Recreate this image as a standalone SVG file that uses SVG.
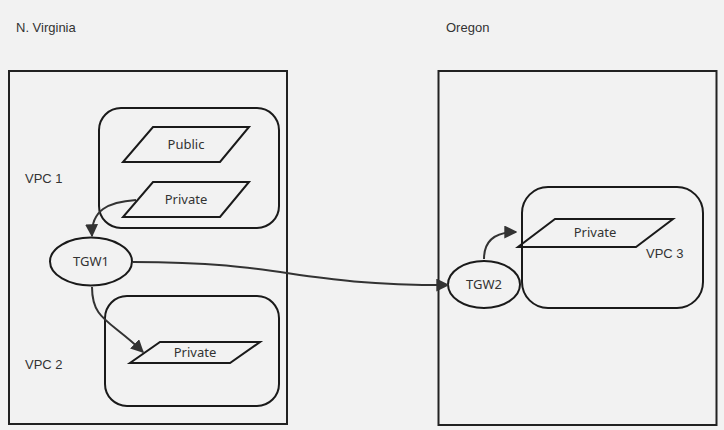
<svg xmlns="http://www.w3.org/2000/svg" width="724" height="430" viewBox="0 0 724 430">
<defs>
<style>
.region{fill:none;stroke:#222;stroke-width:2}
.vpc{fill:none;stroke:#1a1a1a;stroke-width:2}
.sub{fill:none;stroke:#1a1a1a;stroke-width:2;stroke-linejoin:miter}
.tgw{fill:none;stroke:#1a1a1a;stroke-width:2}
.lbl{font-family:"Liberation Sans",Arial,sans-serif;font-size:13px;fill:#333}
.txt{font-family:"Noto Sans","Open Sans",sans-serif;font-size:13px;fill:#333;text-anchor:middle}
.edge{fill:none;stroke:#333;stroke-width:2}
</style>
<marker id="arr" viewBox="0 0 10 10" refX="9" refY="5" markerWidth="6.5" markerHeight="6.5" orient="auto" markerUnits="strokeWidth">
<path d="M0,0 L10,5 L0,10 z" fill="#333"/>
</marker>
</defs>
<rect width="724" height="430" fill="#f2f2f2"/>
<g id="region-nvirginia">
<rect class="region" x="9" y="71" width="278" height="353"/>
<text class="lbl" x="16" y="32">N. Virginia</text>
</g>
<g id="region-oregon">
<rect class="region" x="438.5" y="71" width="278" height="354"/>
<text class="lbl" x="446" y="32">Oregon</text>
</g>
<g id="vpc1">
<rect class="vpc" x="99" y="108" width="180" height="120" rx="22"/>
<text class="lbl" x="25" y="183">VPC 1</text>
</g>
<g id="vpc1-public">
<polygon class="sub" points="153,127 249,127 220,162 123,162"/>
<text class="txt" x="186" y="148.5">Public</text>
</g>
<g id="vpc1-private">
<polygon class="sub" points="153,182 249,182 220,217 123,217"/>
<text class="txt" x="186" y="203.5">Private</text>
</g>
<g id="tgw1">
<ellipse class="tgw" cx="91" cy="261.5" rx="41" ry="24"/>
<text class="txt" x="91" y="266">TGW1</text>
</g>
<g id="vpc2">
<rect class="vpc" x="105" y="296" width="174" height="110" rx="22"/>
<text class="lbl" x="25" y="369">VPC 2</text>
</g>
<g id="vpc2-private">
<polygon class="sub" points="160,342 260,342 230,363 130,363"/>
<text class="txt" x="195" y="357">Private</text>
</g>
<g id="tgw2">
<ellipse class="tgw" cx="484" cy="284.5" rx="36" ry="23.5"/>
<text class="txt" x="484" y="289">TGW2</text>
</g>
<g id="vpc3">
<rect class="vpc" x="522" y="187" width="181" height="121" rx="26"/>
<text class="lbl" x="646" y="258">VPC 3</text>
</g>
<g id="vpc3-private">
<polygon class="sub" points="555,219 673,219 636,247 518,247"/>
<text class="txt" x="595" y="237">Private</text>
</g>
<g id="connectors">
<path class="edge" marker-end="url(#arr)" d="M136,200 C108,202 91,210 92,236"/>
<path class="edge" marker-end="url(#arr)" d="M92,287 C92,320 110,320 143,352"/>
<path class="edge" marker-end="url(#arr)" d="M133,262 C290,262 290,285 448,285"/>
<path class="edge" marker-end="url(#arr)" d="M484,259 C484,240 496,232 516,232"/>
</g>
</svg>
